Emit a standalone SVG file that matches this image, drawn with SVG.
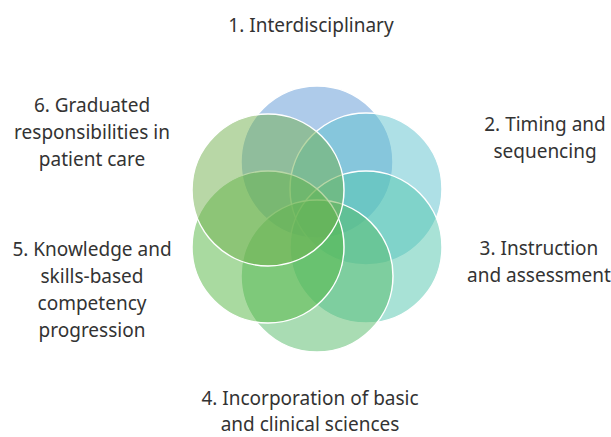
<svg xmlns="http://www.w3.org/2000/svg" width="611" height="437" viewBox="0 0 611 437">
<style>
.c{stroke:#ffffff;stroke-width:1.5;}
.t{font-family:"Noto Sans","Liberation Sans",sans-serif;font-size:19px;fill:#333333;text-anchor:middle;}
</style>
<rect width="611" height="437" fill="#ffffff"/>
<g id="circles">
<g id="n1"><circle class="c" cx="317" cy="162" r="76" fill="#5d98d6" fill-opacity="0.5"/></g>
<g id="n2"><circle class="c" cx="366" cy="189" r="76" fill="#5dc2ce" fill-opacity="0.5"/></g>
<g id="n3"><circle class="c" cx="366" cy="247" r="76" fill="#52c5ad" fill-opacity="0.5"/></g>
<g id="n4"><circle class="c" cx="317" cy="276" r="76" fill="#53b968" fill-opacity="0.5"/></g>
<g id="n5"><circle class="c" cx="268" cy="247" r="76" fill="#54b542" fill-opacity="0.5"/></g>
<g id="n6"><circle class="c" cx="268" cy="190" r="76" fill="#72b04d" fill-opacity="0.5"/></g>
</g>
<g id="labels">
<text class="t" x="311" y="32">1. Interdisciplinary</text>
<text class="t" x="545" y="131">2. Timing and</text>
<text class="t" x="545" y="158">sequencing</text>
<text class="t" x="539" y="255">3. Instruction</text>
<text class="t" x="539" y="282">and assessment</text>
<text class="t" x="310" y="405">4. Incorporation of basic</text>
<text class="t" x="310" y="431">and clinical sciences</text>
<text class="t" x="92" y="256">5. Knowledge and</text>
<text class="t" x="92" y="283">skills-based</text>
<text class="t" x="92" y="310">competency</text>
<text class="t" x="92" y="337">progression</text>
<text class="t" x="92" y="112">6. Graduated</text>
<text class="t" x="92" y="139">responsibilities in</text>
<text class="t" x="92" y="166">patient care</text>
</g>
<g id="connectors"/>
</svg>
